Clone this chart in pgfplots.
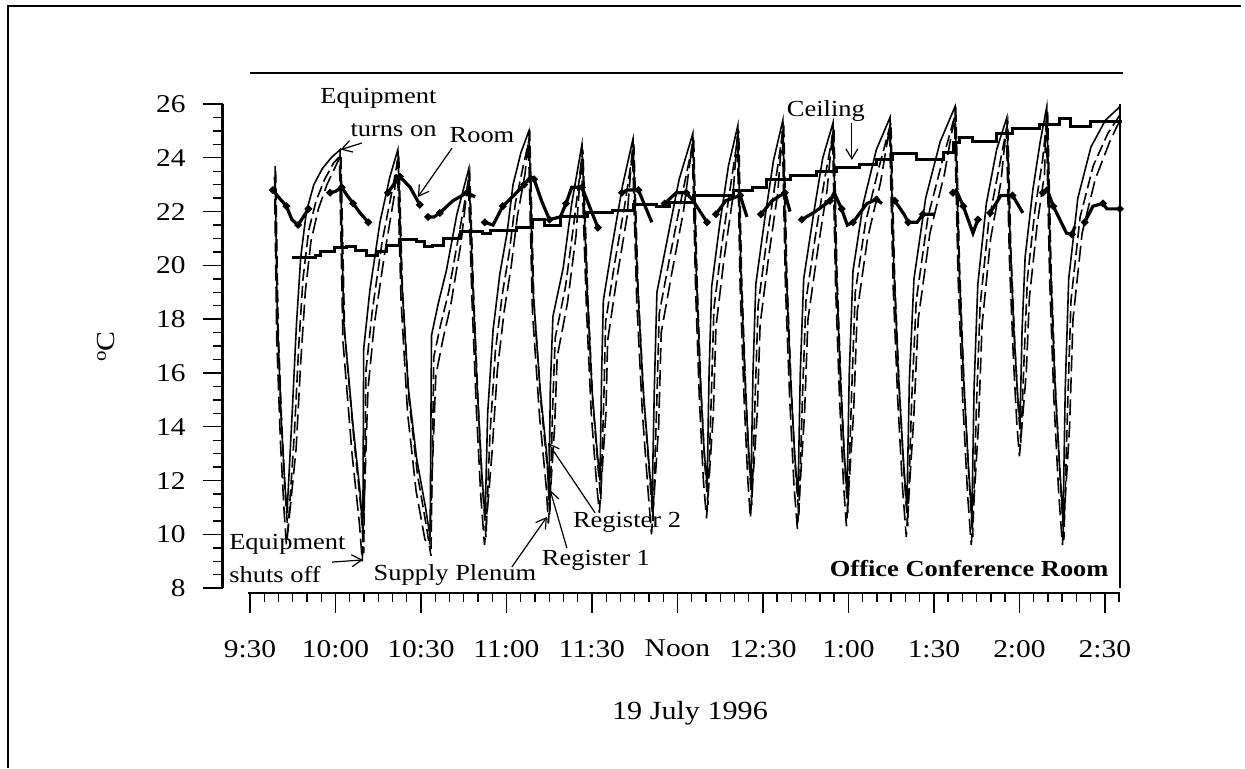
\documentclass[border=0pt]{standalone}
\usepackage{fontspec}
\setmainfont{Liberation Serif}[FakeStretch=1.15]
\usepackage{pgfplots}
\pgfplotsset{compat=1.18}
\usetikzlibrary{arrows.meta}

\newcommand\annfont{\fontsize{11.5}{16.5}\selectfont}
\newcommand\tickfont{\fontsize{12.8}{15}\selectfont}

\begin{document}
\begin{tikzpicture}
\begin{axis}[
  at={(0,0)}, anchor=south west,
  scale only axis, width=448.65pt, height=260pt,
  xmin=-9.58, xmax=305.3, ymin=7.82, ymax=27.15,
  clip=false,
  axis x line*=bottom, axis y line*=left,
  axis line style={draw=none,-},
  tick align=outside,
  major tick length=10pt, minor tick length=4.7pt,
  every tick/.append style={black, line width=0.7pt},
  xtick={0,30,...,300},
  xticklabels={9:30,10:00,10:30,11:00,11:30,Noon,12:30,1:00,1:30,2:00,2:30},
  minor xtick={5,10,...,305},
  ytick={8,10,...,26},
  yticklabels={8,10,12,14,16,18,20,22,24,26},
  minor ytick={8.5,9,...,25.5},
  /pgf/number format/assume math mode=true,
  tick label style={font=\tickfont},
  xticklabel style={yshift=-10pt},
  yticklabel style={xshift=-5pt},
  unbounded coords=jump,
]

% frame of the axes
\draw[line width=1.2pt] (axis cs:-0.7,7.82) -- (axis cs:305.3,7.82);
\draw[line width=1.2pt] (axis cs:-9.58,8) -- (axis cs:-9.58,26);
\draw[line width=1pt] (axis cs:305.3,8) -- (axis cs:305.3,26);
\draw[line width=1.2pt] (axis cs:0,27.15) -- (axis cs:306.3,27.15);

% Supply Plenum
\addplot[black, line width=0.8pt, dash pattern=on 8pt off 3pt] coordinates {
(8.6,23.3) (9.4,17.2) (10.7,13.4) (12.0,10.8) (12.8,9.6)
(16.2,13.2) (17.8,16.4) (19.4,19.0) (21.4,20.9) (24.0,22.1) (27.0,23.0) (30.1,23.7) (31.4,24.0)
(32.6,17.2) (35.8,13.0) (38.4,10.4) (39.4,9.0)
(41.4,15.4) (43.6,17.8) (47.2,20.4) (50.5,22.5) (51.7,23.9)
(53.0,18.7) (55.3,14.5) (58.3,11.6) (61.4,9.8) (63.0,9.6)
(65.2,15.9) (67.6,17.2) (70.4,18.5) (74.0,20.8) (76.6,23.2)
(77.9,18.7) (79.5,14.5) (81.0,11.4) (82.3,9.6)
(84.9,13.0) (86.8,16.1) (89.2,18.3) (91.7,20.0) (93.8,21.8) (96.5,23.4) (97.7,24.6)
(99.1,18.3) (101.6,14.4) (104.0,11.7) (104.7,10.4)
(106.9,14.0) (107.8,16.6) (111.4,18.6) (114.4,21.1) (116.3,24.0)
(118.1,18.3) (119.8,14.4) (121.7,11.8) (122.6,10.8)
(124.9,14.5) (125.5,17.2) (128.7,19.5) (132.3,21.8) (134.2,24.3)
(135.7,18.7) (137.7,14.5) (139.7,11.6) (140.9,10.0)
(143.4,14.0) (144.3,17.5) (148.0,19.7) (152.1,22.0) (155.2,24.5)
(156.4,19.0) (157.7,15.0) (159.1,12.0) (160.2,10.6)
(162.6,14.5) (163.5,17.7) (166.3,20.2) (169.4,22.5) (171.0,24.8)
(172.0,19.2) (173.4,15.0) (174.7,12.0) (175.6,10.6)
(178.0,14.5) (179.0,17.8) (182.1,20.4) (185.2,22.7) (186.8,25.0)
(187.9,19.2) (189.4,15.0) (190.9,11.8) (192.1,10.2)
(194.6,14.5) (195.8,18.0) (199.4,20.7) (202.5,22.8) (204.4,24.9)
(205.5,19.2) (206.9,15.0) (208.3,11.8) (209.3,10.3)
(211.8,14.5) (213.1,18.3) (216.7,21.0) (221.3,23.1) (224.4,25.1)
(225.7,19.2) (227.3,15.0) (229.0,11.7) (230.3,9.9)
(232.9,14.3) (234.5,18.0) (238.6,21.2) (243.7,23.4) (247.2,25.5)
(248.5,19.5) (250.1,15.0) (251.8,11.5) (253.1,9.6)
(255.6,14.0) (256.9,17.8) (259.9,21.0) (263.5,23.1) (265.4,25.1)
(266.5,20.2) (267.9,16.5) (269.1,14.1) (270.0,12.9)
(272.4,16.0) (273.5,18.8) (276.2,21.5) (278.8,23.4) (279.4,25.5)
(280.6,19.5) (282.1,15.0) (283.8,11.5) (285.1,9.6)
(287.6,14.0) (288.8,18.0) (292.0,21.2) (296.6,23.2) (301.7,24.6) (305.3,25.4)
};

% Register 2
\addplot[black, line width=0.8pt, dash pattern=on 6pt off 2.5pt] coordinates {
(9.0,23.5) (9.9,17.6) (11.2,13.9) (12.5,11.3) (13.3,10.1)
(15.6,13.8) (17.1,17.0) (18.6,19.5) (20.6,21.3) (23.2,22.4) (26.2,23.2) (29.3,23.8) (31.9,24.1)
(33.2,17.5) (36.4,13.6) (38.9,11.0) (39.9,9.3)
(40.7,16.1) (42.9,18.3) (46.4,20.9) (49.9,22.8) (52.2,24.1)
(53.5,19.1) (55.8,15.0) (58.8,12.2) (61.9,10.3) (63.5,9.2)
(64.5,16.6) (66.9,17.8) (69.7,19.0) (73.4,21.2) (77.1,23.4)
(78.4,19.1) (80.0,15.0) (81.5,11.9) (82.8,9.9)
(84.2,13.7) (86.1,16.8) (88.5,18.9) (91.0,20.5) (93.1,22.3) (95.9,23.7) (98.2,24.8)
(99.6,18.7) (102.1,14.9) (104.5,12.3) (105.2,10.7)
(106.2,14.7) (107.1,17.3) (110.7,19.2) (113.7,21.6) (116.8,24.3)
(118.6,18.7) (120.3,14.9) (122.2,12.4) (123.1,11.3)
(124.2,15.2) (124.8,17.9) (128.0,20.1) (131.6,22.3) (134.7,24.5)
(136.2,19.1) (138.2,15.0) (140.2,12.2) (141.4,10.5)
(142.7,14.7) (143.6,18.2) (147.3,20.3) (151.4,22.5) (155.7,24.7)
(156.9,19.4) (158.2,15.5) (159.6,12.6) (160.7,11.1)
(161.9,15.2) (162.8,18.4) (165.6,20.8) (168.7,23.0) (171.5,25.0)
(172.5,19.6) (173.9,15.5) (175.2,12.6) (176.1,11.1)
(177.3,15.2) (178.3,18.5) (181.4,21.0) (184.5,23.2) (187.3,25.2)
(188.4,19.6) (189.9,15.5) (191.4,12.4) (192.6,10.7)
(193.9,15.2) (195.1,18.7) (198.7,21.3) (201.8,23.3) (204.9,25.1)
(206.0,19.6) (207.4,15.5) (208.8,12.4) (209.8,10.8)
(211.1,15.2) (212.4,19.0) (216.0,21.6) (220.6,23.6) (224.9,25.3)
(226.2,19.6) (227.8,15.5) (229.5,12.3) (230.8,10.3)
(232.2,15.0) (233.8,18.7) (237.9,21.8) (243.0,23.9) (247.7,25.7)
(249.0,19.9) (250.6,15.5) (252.3,12.1) (253.6,9.9)
(254.9,14.7) (256.2,18.5) (259.2,21.6) (262.8,23.6) (265.9,25.3)
(267.0,20.6) (268.4,17.0) (269.6,14.7) (270.5,13.4)
(271.7,16.7) (272.8,19.5) (275.5,22.1) (278.1,23.9) (279.9,25.7)
(281.1,19.9) (282.6,15.5) (284.3,12.1) (285.6,9.8)
(286.9,14.7) (288.1,18.7) (291.3,21.8) (295.9,23.7) (301.0,24.9) (305.3,25.6)
};

% Register 1
\addplot[black, line width=0.8pt] coordinates {
(8.8,23.7) (9.6,18.0) (10.9,14.4) (12.2,11.9) (13.0,10.8)
(14.8,14.5) (16.3,17.8) (17.8,20.3) (19.8,22.0) (22.4,23.0) (25.4,23.6) (28.5,24.0) (31.6,24.3)
(32.9,17.9) (36.1,14.1) (38.6,11.6) (39.6,10.05)
(39.9,16.9) (42.1,19.1) (45.6,21.6) (49.1,23.3) (51.9,24.3)
(53.2,19.5) (55.5,15.5) (58.5,12.8) (61.6,11.0) (63.2,9.9)
(63.7,17.4) (66.1,18.6) (68.9,19.8) (72.6,21.9) (76.8,23.6)
(78.1,19.5) (79.7,15.5) (81.2,12.5) (82.5,10.6)
(83.4,14.5) (85.3,17.6) (87.7,19.7) (90.2,21.2) (92.3,23.0) (95.1,24.2) (97.9,25.0)
(99.3,19.1) (101.8,15.4) (104.2,12.9) (104.9,11.4)
(105.4,15.5) (106.3,18.1) (109.9,19.9) (112.9,22.3) (116.5,24.5)
(118.3,19.1) (120.0,15.4) (121.9,13.0) (122.8,12.0)
(123.4,16.0) (124.0,18.7) (127.2,20.8) (130.8,23.0) (134.4,24.7)
(135.9,19.5) (137.9,15.5) (139.9,12.8) (141.1,11.2)
(141.9,15.5) (142.8,19.0) (146.5,21.0) (150.6,23.2) (155.4,24.9)
(156.6,19.8) (157.9,16.0) (159.3,13.2) (160.4,11.8)
(161.1,16.0) (162.0,19.2) (164.8,21.5) (167.9,23.7) (171.2,25.2)
(172.2,20.0) (173.6,16.0) (174.9,13.2) (175.8,11.8)
(176.5,16.0) (177.5,19.3) (180.6,21.7) (183.7,23.9) (187.0,25.4)
(188.1,20.0) (189.6,16.0) (191.1,13.0) (192.3,11.4)
(193.1,16.0) (194.3,19.5) (197.9,22.0) (201.0,24.0) (204.6,25.3)
(205.7,20.0) (207.1,16.0) (208.5,13.0) (209.5,11.5)
(210.3,16.0) (211.6,19.8) (215.2,22.3) (219.8,24.3) (224.6,25.5)
(225.9,20.0) (227.5,16.0) (229.2,12.9) (230.5,11.0)
(231.4,15.8) (233.0,19.5) (237.1,22.5) (242.2,24.6) (247.4,25.9)
(248.7,20.3) (250.3,16.0) (252.0,12.7) (253.3,10.6)
(254.1,15.5) (255.4,19.3) (258.4,22.3) (262.0,24.3) (265.6,25.5)
(266.7,21.0) (268.1,17.5) (269.3,15.3) (270.2,14.1)
(270.9,17.5) (272.0,20.3) (274.7,22.8) (277.3,24.6) (279.6,25.9)
(280.8,20.3) (282.3,16.0) (284.0,12.7) (285.3,10.5)
(286.1,15.5) (287.3,19.5) (290.5,22.5) (295.1,24.4) (300.2,25.4) (305.3,25.9)
};

% Ceiling
\addplot[black, line width=1.5pt, const plot] coordinates {
(14.7,20.3) (22.9,20.35) (24.9,20.5) (29.5,20.65) (34.0,20.7) (37.1,20.55)
(41.0,20.35) (44.6,20.5) (48.0,20.75) (52.6,20.95) (58.6,20.9) (61.4,20.7)
(64.2,20.75) (67.8,21.0) (73.7,21.25) (81.7,21.2) (84.3,21.3) (93.6,21.4)
(99.3,21.7) (103.3,21.5) (108.8,21.8) (118.3,21.95) (127.2,22.05) (134.4,22.25)
(142.8,22.2) (147.3,22.35) (155.5,22.6) (169.5,22.8) (176.4,22.9) (181.4,23.2)
(189.5,23.35) (195.4,23.35) (198.9,23.5) (205.9,23.65) (214.0,23.75) (220.0,23.95)
(225.6,24.15) (234.0,23.95) (243.2,24.2) (246.7,24.55) (249.1,24.75) (253.7,24.6)
(262.1,24.9) (267.6,25.1) (277.2,25.25) (284.2,25.45) (287.8,25.15) (294.8,25.35)
(305.3,25.4)
};

% Room
\addplot[black, line width=1.6pt, mark=*, mark size=0.9pt, mark repeat=2] coordinates {
(8.0,22.8) (9.9,22.55) (12.8,22.2) (14.7,21.7) (16.9,21.5) (18.7,21.8) (20.5,22.1)
(24,nan)
(28.1,22.7) (30.0,22.75) (32.2,22.9) (34.1,22.6) (36.2,22.3) (38.6,21.95) (41.5,21.6)
(45,nan)
(48.4,22.7) (50.4,23.0) (52.6,23.3) (56.2,22.9) (59.6,22.25)
(61,nan)
(62.5,21.8) (64.6,21.8) (66.6,21.95) (71.2,22.4) (76.1,22.7) (79.0,22.55)
(81,nan)
(82.4,21.6) (85.3,21.5) (88.7,22.2) (92.6,22.6) (96.2,23.0) (98.5,23.3) (99.7,23.2)
(102.3,22.4) (105.1,21.7) (108.9,21.8) (110.9,22.3) (112.9,22.9) (116.5,22.9)
(119.1,22.2) (122.1,21.4)
(126,nan)
(130.5,22.7) (132.3,22.8) (136.3,22.8) (141.0,21.6)
(143,nan)
(145.5,22.3) (149.6,22.7) (153.1,22.7) (155.5,22.4) (160.4,21.6)
(162,nan)
(163.5,21.9) (166.9,22.4) (172.0,22.6) (174.4,21.8)
(177,nan)
(179.3,21.9) (183.2,22.4) (187.7,22.7) (189.5,22.0)
(191,nan)
(193.6,21.7) (198.4,22.0) (203.5,22.4) (205.0,22.7) (207.6,22.1) (209.6,21.5)
(211.6,21.6) (216.5,22.3) (219.8,22.45) (221.8,22.3)
(224,nan)
(226.3,22.4) (229.5,21.9) (231.0,21.6) (234.1,21.6) (236.1,21.9) (240.1,21.9)
(243,nan)
(246.7,22.7) (247.8,22.8) (250.3,22.2) (253.7,21.2) (255.4,21.7)
(257,nan)
(259.7,21.95) (263.5,22.6) (267.6,22.6) (271.2,21.95)
(275,nan)
(278.2,22.7) (279.6,22.85) (281.9,22.2) (286.5,21.2) (288.4,21.15) (289.5,21.45)
(291,nan)
(292.9,21.6) (295.8,22.2) (299.3,22.3) (300.7,22.1) (305.3,22.1)
};

% annotations
\tikzset{ann/.style={font=\annfont, inner sep=0pt},
         arr/.style={-{Straight Barb[length=5pt,width=6pt]}, line width=0.6pt}}
\node[ann, align=right, anchor=east] at (axis cs:65.6,25.67) {Equipment\\turns on};
\draw[arr] (axis cs:39.3,24.55) -- (axis cs:31.8,24.3);
\node[ann] at (axis cs:81.4,24.85) {Room};
\draw[arr] (axis cs:70.9,24.36) -- (axis cs:58.9,22.54);
\node[ann, anchor=base] at (axis cs:202.1,25.52) {Ceiling};
\draw[arr] (axis cs:211.2,25.29) -- (axis cs:211.2,23.92);
\node[ann, align=left, anchor=west] at (axis cs:-7.4,9.09) {Equipment\\shuts off};
\draw[arr] (axis cs:28.8,8.97) -- (axis cs:39.6,9.05);
\node[ann, anchor=base] at (axis cs:71.9,8.27) {Supply Plenum};
\draw[arr] (axis cs:91.9,8.79) -- (axis cs:104.2,10.65);
\node[ann, anchor=base] at (axis cs:121.4,8.86) {Register 1};
\draw[arr] (axis cs:111.2,9.49) -- (axis cs:105.3,11.65);
\node[ann, anchor=base] at (axis cs:132.3,10.24) {Register 2};
\draw[arr] (axis cs:121.1,10.80) -- (axis cs:104.6,13.40);
\node[inner sep=0pt, anchor=base east, font=\bfseries\fontsize{11.5}{13}\selectfont]
  at (axis cs:301.4,8.45) {Office Conference Room};
\node[inner sep=0pt, rotate=90, font=\fontsize{13}{15}\selectfont]
  at (axis cs:-50.5,16.97) {$^{\rm o}$C};
\node[inner sep=0pt, anchor=base, font=\fontsize{13.1}{15}\selectfont]
  at (axis cs:154.4,3.1) {19 July 1996};
\end{axis}

% outer frame of the figure
\draw[line width=1pt] (-107.2pt,-87.5pt) -- (-107.2pt,293.5pt) -- (509pt,293.5pt);
\pgfresetboundingbox
\path[use as bounding box] (-111.35pt,-87.5pt) rectangle (511.15pt,296.5pt);
\end{tikzpicture}
\end{document}
